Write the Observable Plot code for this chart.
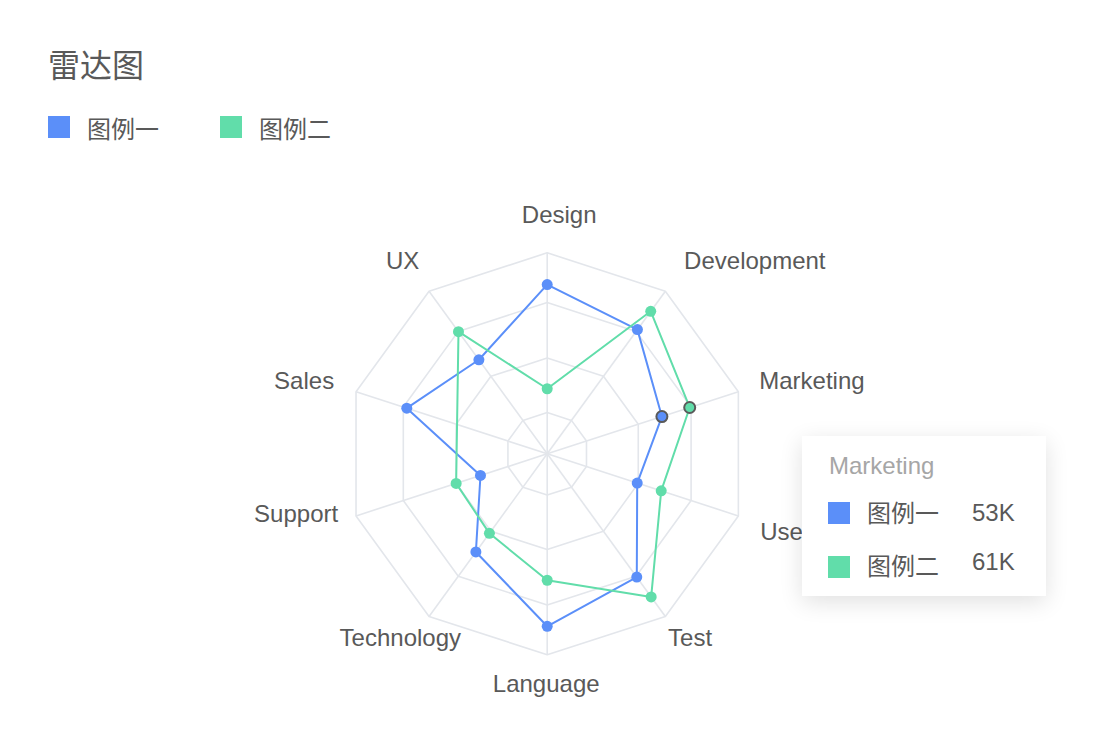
<!DOCTYPE html>
<html>
<head>
<meta charset="utf-8">
<script src="https://cdn.jsdelivr.net/npm/d3@7"></script>
<script src="https://cdn.jsdelivr.net/npm/@observablehq/plot@0.6"></script>
<style>
  body { margin: 0; background: #fff; font-family: Arial, "Liberation Sans", "Noto Sans CJK SC", sans-serif; }
  #wrap { position: relative; width: 1120px; height: 752px; overflow: hidden; }
  #title { position: absolute; left: 48px; top: 45px; font-size: 32px; line-height: 42px; color: #595959; }
  .leg { position: absolute; top: 116px; height: 22px; display: flex; align-items: center; font-size: 24px; color: #595959; }
  .sw { width: 22px; height: 22px; margin-right: 17px; }
  #chart { position: absolute; left: 0; top: 160px; }
  #tip { position: absolute; left: 802px; top: 436px; width: 244px; height: 160px; background: #fff;
         box-shadow: 0 6px 22px rgba(0,0,0,0.12); z-index: 5; }
  #tip div { position: absolute; white-space: nowrap; font-size: 24px; line-height: 30px; color: #595959; }
  #tip .tsw { width: 22px; height: 22px; }
</style>
</head>
<body>
<div id="wrap">
  <div id="title"></div>
  <div id="legend"></div>
  <div id="chart"></div>
  <div id="tip"></div>
</div>
<script>
// ---- data ----
const titleText = "雷达图";
const categories = ["Design", "Development", "Marketing", "Users", "Test", "Language", "Technology", "Support", "Sales", "UX"];
const seriesNames = ["图例一", "图例二"];
const series1 = [66.3, 62.0, 53, 45.9, 61.7, 67.2, 53.2, 39.2, 60.4, 51.8];
const series2 = [37.8, 68.2, 61, 52.8, 68.4, 54.6, 46.9, 46.2, null, 61.3];
const ringLevels = [31.3, 46.2, 61.4, 75];
const radialMin = 20;
const radialMax = 75;
const tooltipCategory = "Marketing";
const colors = ["#5B8FF9", "#61DDAA"];

// ---- layout ----
const width = 1120, height = 560;
const cx = 546.7, cy = 293.3, R = 201;
const span = radialMax - radialMin;
const n = categories.length;
const angle = i => (i * 2 * Math.PI) / n;
const polar = (v, i) => ({ x: (v - radialMin) * Math.sin(angle(i)), y: (v - radialMin) * Math.cos(angle(i)) });

// title + legend
document.getElementById("title").textContent = titleText;
const legendEl = document.getElementById("legend");
seriesNames.forEach((name, k) => {
  const item = document.createElement("div");
  item.className = "leg";
  item.style.left = (48 + k * 172) + "px";
  item.innerHTML = `<div class="sw" style="background:${colors[k]}"></div><span>${name}</span>`;
  legendEl.appendChild(item);
});

// grid data
const ringData = ringLevels.flatMap(L => categories.map((c, i) => ({ L, ...polar(L, i) })));
const spokeData = categories.map((c, i) => ({ c, ...polar(radialMax, i) }));
const seriesValues = [series1, series2];
const points = seriesValues.flatMap((vals, k) =>
  vals.map((v, i) => (v == null ? null : { name: seriesNames[k], cat: categories[i], v, ...polar(v, i) })).filter(d => d)
);

// labels: placed just outside the outer ring, aligned by direction
const labelR = radialMin + span * 1.125;
function labelStyle(i) {
  const s = Math.sin(angle(i)), co = Math.cos(angle(i));
  const side = Math.abs(s) < 0.1 ? 0 : Math.sign(s);
  if (co > 0.9) return { anchor: "middle", dx: 12, dy: -12 };              // top
  if (co > 0.5) return { anchor: side > 0 ? "start" : "end", dx: side > 0 ? 4 : 5, dy: -10 };
  if (co > 0) return { anchor: side > 0 ? "start" : "end", dx: side > 0 ? -3 : 2, dy: -3 };
  if (co > -0.5) return { anchor: side > 0 ? "start" : "end", dx: side > 0 ? -2 : 6, dy: side > 0 ? 9 : -9 };
  if (co > -0.9) return { anchor: "middle", dx: side > 0 ? 10 : -14, dy: 2 };
  return { anchor: "middle", dx: -1, dy: 4 };                                // bottom
}
const labelMarks = categories.map((c, i) => {
  const st = labelStyle(i);
  return Plot.text([{ c, ...polar(labelR, i) }], {
    x: "x", y: "y", text: "c", textAnchor: st.anchor, lineAnchor: "middle",
    dx: st.dx, dy: st.dy, fill: "#595959", fontSize: 24
  });
});

const plot = Plot.plot({
  width, height,
  marginLeft: cx - R, marginRight: width - (cx + R),
  marginTop: cy - R, marginBottom: height - (cy + R),
  x: { domain: [-span, span], axis: null },
  y: { domain: [-span, span], axis: null },
  color: { domain: seriesNames, range: colors },
  style: { fontFamily: 'Arial, "Liberation Sans", "Noto Sans CJK SC", sans-serif', background: "transparent", overflow: "visible" },
  marks: [
    Plot.line(ringData, { x: "x", y: "y", z: "L", curve: "linear-closed", stroke: "#e3e6eb", strokeWidth: 1.6 }),
    Plot.link(spokeData, { x1: 0, y1: 0, x2: "x", y2: "y", stroke: "#e3e6eb", strokeWidth: 1.6 }),
    Plot.line(points, { x: "x", y: "y", z: "name", stroke: "name", curve: "linear-closed", strokeWidth: 2 }),
    Plot.dot(points, { x: "x", y: "y", fill: "name", r: 5.5 }),
    Plot.dot(points.filter(d => d.cat === tooltipCategory), { x: "x", y: "y", fill: "name", r: 5.5, stroke: "#5a5a5a", strokeWidth: 2 }),
    ...labelMarks
  ]
});
document.getElementById("chart").appendChild(plot);

// tooltip
const tip = document.getElementById("tip");
const ti = categories.indexOf(tooltipCategory);
let html = `<div style="left:27px;top:15px;color:#a6a6a6">${tooltipCategory}</div>`;
const rowTops = [[66, 63, 62], [120, 116, 111]];
seriesNames.forEach((name, k) => {
  const [sTop, nTop, vTop] = rowTops[k];
  const v = seriesValues[k][ti];
  html += `<div class="tsw" style="left:26px;top:${sTop}px;background:${colors[k]}"></div>`;
  html += `<div style="left:65px;top:${nTop}px">${name}</div>`;
  html += `<div style="left:170px;top:${vTop}px">${Math.round(v)}K</div>`;
});
tip.innerHTML = html;
</script>
</body>
</html>
